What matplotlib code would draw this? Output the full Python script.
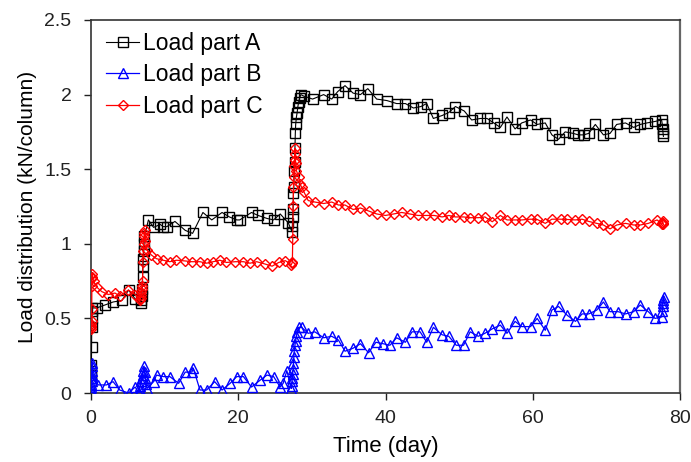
import matplotlib
matplotlib.use("Agg")
import matplotlib.pyplot as plt
from matplotlib.ticker import FormatStrFormatter

plt.rcParams['font.family'] = ['Liberation Sans', 'DejaVu Sans']

# ---------------- data ----------------
day_a = [0.0, 0.02, 0.04, 0.06, 0.08, 0.10, 0.13, 0.16, 0.2, 0.77, 1.9, 3.0, 4.2, 5.1, 6.0,
         6.8, 6.85, 6.9, 6.95, 7.0, 7.05, 7.1, 7.15, 7.2, 7.25, 7.8, 8.5, 9.4, 9.8, 10.3,
         11.4, 12.8, 13.8, 15.2, 16.4, 17.8, 18.8, 19.8, 20.2, 21.8, 22.7, 23.9, 24.8,
         25.7, 26.8, 27.3, 27.35, 27.4, 27.45, 27.5, 27.55, 27.6, 27.65, 27.7, 27.75,
         27.8, 27.9, 28.0, 28.1, 28.2, 28.35, 28.5, 28.9, 30.1, 31.6, 32.7, 33.5, 34.5,
         35.6, 36.6, 37.6, 38.8, 40.2, 41.5, 42.7, 43.8, 44.8, 45.6, 46.5, 47.7, 48.6,
         49.5, 50.7, 51.7, 52.9, 53.8, 54.7, 55.6, 56.5, 57.6, 58.5, 59.7, 60.6, 61.7,
         62.6, 63.5, 64.4, 65.5, 66.2, 66.9, 67.6, 68.5, 69.6, 70.5, 71.4, 72.6, 73.7,
         74.6, 75.5, 76.6, 77.5, 77.6, 77.65, 77.7, 77.75]
load_a = [0.08, 0.12, 0.15, 0.19, 0.31, 0.44, 0.50, 0.55, 0.57, 0.57, 0.59, 0.61, 0.62, 0.69, 0.63,
          0.60, 0.62, 0.65, 0.70, 0.78, 0.85, 0.90, 0.95, 1.00, 1.05, 1.16, 1.11, 1.13, 1.115, 1.115,
          1.15, 1.09, 1.07, 1.21, 1.16, 1.21, 1.18, 1.16, 1.16, 1.21, 1.19, 1.17, 1.16,
          1.20, 1.14, 1.08, 1.12, 1.18, 1.23, 1.34, 1.38, 1.49, 1.55, 1.64, 1.74,
          1.80, 1.85, 1.88, 1.92, 1.95, 1.98, 2.00, 1.99, 1.97, 2.00, 1.97, 2.02, 2.06,
          2.01, 2.00, 2.04, 1.97, 1.96, 1.94, 1.94, 1.91, 1.92, 1.94, 1.84, 1.86, 1.88,
          1.92, 1.89, 1.83, 1.84, 1.84, 1.81, 1.78, 1.85, 1.77, 1.81, 1.83, 1.80, 1.81,
          1.73, 1.70, 1.75, 1.74, 1.73, 1.73, 1.74, 1.80, 1.73, 1.74, 1.80, 1.81, 1.78,
          1.80, 1.81, 1.82, 1.83, 1.80, 1.77, 1.74, 1.72]

day_b = [0.0, 0.02, 0.04, 0.06, 0.08, 0.10, 0.12, 0.14, 0.16, 0.18, 0.2, 1.0, 2.1, 3.0, 3.9,
         5.1, 6.0, 6.5, 6.6, 6.7, 6.8, 6.9, 7.0, 7.1, 7.2, 7.3, 7.4, 7.5, 7.6, 8.5, 8.9,
         9.8, 10.7, 11.9, 12.8, 13.7, 13.9, 14.8, 15.7, 16.8, 17.8, 18.9, 19.8, 20.7,
         21.8, 23.0, 23.9, 24.8, 25.7, 26.1, 26.6, 27.2, 27.25, 27.3, 27.35, 27.4, 27.45,
         27.5, 27.55, 27.6, 27.7, 27.8, 27.9, 28.0, 28.2, 28.6, 29.5, 30.4, 31.6, 32.7,
         33.6, 34.5, 35.6, 36.6, 37.7, 38.7, 39.7, 40.6, 41.5, 42.7, 43.6, 44.7, 45.6,
         46.5, 47.7, 48.6, 49.6, 50.6, 51.5, 52.6, 53.5, 54.5, 55.6, 56.5, 57.6, 58.5,
         59.7, 60.6, 61.7, 62.6, 63.5, 64.7, 65.8, 66.7, 67.6, 68.7, 69.6, 70.5, 71.6,
         72.6, 73.7, 74.6, 75.7, 76.6, 77.5, 77.6, 77.65, 77.7, 77.75, 77.8]
load_b = [0.0, 0.02, 0.04, 0.06, 0.08, 0.10, 0.12, 0.15, 0.18, 0.20, 0.10, 0.054, 0.054, 0.076, 0.02,
          0.0, 0.04, 0.0, 0.02, 0.05, 0.08, 0.10, 0.12, 0.15, 0.18, 0.14, 0.10, 0.06, 0.03, 0.076, 0.12,
          0.11, 0.11, 0.065, 0.14, 0.14, 0.165, 0.02, 0.02, 0.076, 0.02, 0.065, 0.11, 0.11,
          0.04, 0.087, 0.12, 0.11, 0.04, 0.065, 0.15, 0.03, 0.05, 0.08, 0.10, 0.13, 0.16,
          0.20, 0.24, 0.28, 0.32, 0.35, 0.38, 0.41, 0.44, 0.44, 0.40, 0.41, 0.37, 0.38,
          0.355, 0.28, 0.30, 0.33, 0.27, 0.34, 0.33, 0.32, 0.37, 0.34, 0.41, 0.41, 0.34,
          0.44, 0.39, 0.38, 0.32, 0.32, 0.41, 0.38, 0.40, 0.43, 0.455, 0.40, 0.48, 0.445,
          0.445, 0.50, 0.42, 0.556, 0.58, 0.52, 0.48, 0.53, 0.53, 0.556, 0.61, 0.545, 0.545,
          0.53, 0.545, 0.59, 0.545, 0.50, 0.51, 0.55, 0.58, 0.60, 0.62, 0.645]

day_c = [0.0, 0.02, 0.04, 0.06, 0.08, 0.10, 0.12, 0.14, 0.16, 0.2, 0.35, 0.77, 1.45, 2.35, 3.26,
         3.9, 5.07, 6.0, 6.6, 6.7, 6.75, 6.8, 6.85, 6.9, 6.95, 7.0, 7.05, 7.1, 7.15, 7.2,
         7.25, 7.3, 7.4, 7.6, 8.2, 8.9, 9.8, 10.7, 11.6, 12.8, 13.7, 14.8, 15.7, 16.6,
         17.5, 18.4, 19.6, 20.7, 21.6, 22.5, 23.6, 24.6, 25.5, 26.4, 27.2, 27.3, 27.35,
         27.4, 27.45, 27.5, 27.55, 27.6, 27.65, 27.7, 27.75, 27.8, 27.9, 28.2, 28.4, 28.6,
         28.9, 29.5, 30.4, 31.6, 32.7, 33.6, 34.5, 35.6, 36.6, 37.7, 38.8, 40.0, 41.1,
         42.2, 43.3, 44.4, 45.5, 46.6, 47.7, 48.6, 49.5, 50.6, 51.5, 52.6, 53.5, 54.5,
         55.6, 56.5, 57.6, 58.5, 59.7, 60.6, 61.7, 62.6, 63.8, 64.7, 65.8, 66.7, 67.6,
         68.7, 69.6, 70.5, 71.4, 72.6, 73.7, 74.6, 75.7, 76.9, 77.5, 77.6, 77.65, 77.7, 77.75]
load_c = [0.44, 0.45, 0.43, 0.46, 0.48, 0.56, 0.72, 0.77, 0.80, 0.78, 0.75, 0.71, 0.68, 0.66, 0.67,
          0.65, 0.69, 0.66, 0.62, 0.63, 0.64, 0.66, 0.68, 0.70, 0.72, 0.75, 0.88, 0.95, 1.00, 1.05,
          1.07, 1.09, 1.02, 0.96, 0.925, 0.90, 0.89, 0.88, 0.89, 0.885, 0.88, 0.88, 0.87, 0.88,
          0.89, 0.875, 0.88, 0.88, 0.87, 0.88, 0.865, 0.85, 0.875, 0.887, 0.86, 0.87, 0.88,
          1.03, 1.25, 1.38, 1.45, 1.52, 1.56, 1.64, 1.60, 1.54, 1.49, 1.45, 1.40, 1.38,
          1.35, 1.29, 1.28, 1.27, 1.28, 1.26, 1.26, 1.23, 1.24, 1.22, 1.20, 1.19, 1.20,
          1.21, 1.20, 1.19, 1.19, 1.19, 1.18, 1.19, 1.18, 1.18, 1.175, 1.175, 1.18, 1.148,
          1.19, 1.16, 1.16, 1.16, 1.165, 1.163, 1.137, 1.165, 1.165, 1.163, 1.16, 1.165, 1.15,
          1.137, 1.126, 1.10, 1.126, 1.137, 1.126, 1.126, 1.137, 1.16, 1.13, 1.14, 1.15, 1.14, 1.13]

labels = ["Load part A", "Load part B", "Load part C"]
x_ticks = [0, 20, 40, 60, 80]
y_ticks = [0, 0.5, 1, 1.5, 2, 2.5]

# ---------------- figure ----------------
fig = plt.figure(figsize=(6.91, 4.62), dpi=100)
ax = fig.add_axes([91/691, 1 - 393/462, 589/691, 373/462])

ax.plot(day_a, load_a, color='black', lw=0.8, marker='s', ms=7.5, mfc='none',
        mec='black', mew=1.0, label=labels[0], zorder=3)
ax.plot(day_b, load_b, color='#0000FF', lw=0.9, marker='^', ms=7.5, mfc='none',
        mec='#0000FF', mew=1.0, label=labels[1], zorder=4)
ax.plot(day_c, load_c, color='#FF0000', lw=0.9, marker='D', ms=5.5, mfc='none',
        mec='#FF0000', mew=1.0, label=labels[2], zorder=5)

ax.set_xlim(0, 80)
ax.set_ylim(0, 2.5)
ax.set_xticks(x_ticks)
ax.set_yticks(y_ticks)
ax.yaxis.set_major_formatter(FormatStrFormatter('%g'))
ax.tick_params(direction='out', length=5, width=1, labelsize=14, colors='#222222',
               top=False, right=False)
ax.tick_params(axis='y', pad=9)
ax.tick_params(axis='x', pad=7)
for s in ax.spines.values():
    s.set_color('#333333')
    s.set_linewidth(1.2)
ax.spines['right'].set_color('#666666')
ax.spines['right'].set_linewidth(1.6)

ax.set_xlabel("Time (day)", fontsize=16, labelpad=7)
ax.set_ylabel("Load distribution (kN/column)", fontsize=15, labelpad=5)

leg = ax.legend(loc='upper left', bbox_to_anchor=(0.026, 0.968), frameon=False,
                fontsize=16.5, handlelength=1.44, handletextpad=0.14, labelspacing=0.37,
                borderaxespad=0, borderpad=0)

fig.savefig("out.png", dpi=100)
